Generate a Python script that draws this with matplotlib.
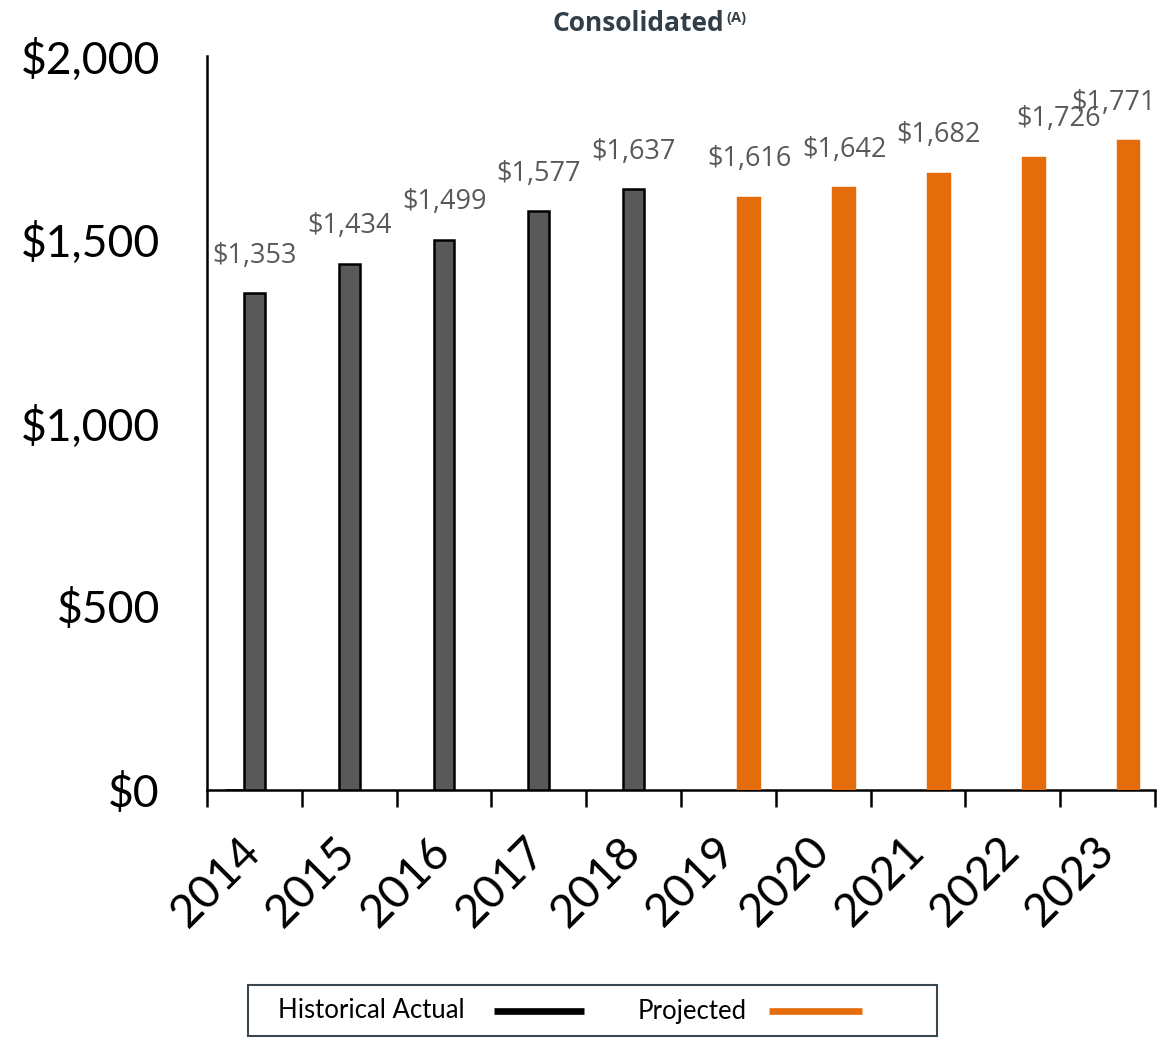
import matplotlib
matplotlib.use("Agg")
import matplotlib.pyplot as plt
from matplotlib.patches import Rectangle
from matplotlib.lines import Line2D

# ---- data -------------------------------------------------------------
years = ["2014", "2015", "2016", "2017", "2018",
         "2019", "2020", "2021", "2022", "2023"]
historical = [1353, 1434, 1499, 1577, 1637]          # 2014-2018
projected = [1616, 1642, 1682, 1726, 1771]           # 2019-2023
lead_bar = [0]                                        # empty leading bar, 2014
ytick_values = [0, 500, 1000, 1500, 2000]
ytick_labels = ["$0", "$500", "$1,000", "$1,500", "$2,000"]
legend_labels = ["Historical Actual", "Projected"]
title_text = "Consolidated"
title_note = "(A)"

# horizontal nudges (points) for value labels that would otherwise collide
label_dx = [0, 0, 0, 0, 0, 0, 0, 0, 18, -11]

# ---- style ------------------------------------------------------------
GRAY = "#595959"
ORANGE = "#E46C0A"
SLATE = "#323E48"
W, H = 1158, 1038

fig = plt.figure(figsize=(W / 100, H / 100), dpi=100)
ax = fig.add_axes([207 / W, 1 - 790 / H, (1155 - 207) / W, (790 - 56) / H])

n_hist = len(historical)
x_hist = [i + 0.5 for i in range(n_hist)]
x_proj = [n_hist + i + 0.72 for i in range(len(projected))]
x_lead = [0.29]

ax.bar(x_lead, lead_bar, width=0.2, color=GRAY, edgecolor="black",
       linewidth=1.8, zorder=3)
ax.bar(x_hist, historical, width=0.22, color=GRAY, edgecolor="black",
       linewidth=1.8, zorder=3)
ax.bar(x_proj, projected, width=0.25, color=ORANGE, edgecolor=ORANGE,
       linewidth=0.3, zorder=3)

# value labels
for x, v, dx in zip(x_hist + x_proj, historical + projected, label_dx):
    ax.annotate(f"${v:,}", (x, v), xytext=(dx, 27), textcoords="offset points",
                ha="center", va="center", fontsize=19.5, color=GRAY,
                family="Open Sans")

# axes
ax.set_xlim(0, len(years))
ax.set_ylim(0, 2000)
ax.set_xticks(range(len(years) + 1))
ax.set_xticklabels([])
ax.set_xticks([i + 0.5 for i in range(len(years))], minor=True)
ax.set_xticklabels(years, minor=True, rotation=45, ha="right", va="center",
                   rotation_mode="anchor", fontsize=33, family="Lato")
ax.tick_params(axis="x", which="major", length=12, width=1.8,
               direction="out", color="black")
ax.tick_params(axis="x", which="minor", length=0, pad=39)

ax.set_yticks(ytick_values)
ax.set_yticklabels(ytick_labels, fontsize=32, family="Lato")
ax.tick_params(axis="y", length=0, pad=34)

for side in ("top", "right"):
    ax.spines[side].set_visible(False)
for side in ("left", "bottom"):
    ax.spines[side].set_linewidth(1.8)
    ax.spines[side].set_color("black")

# title with superscript note placed right after it
title = fig.text(553 / W, 1 - 31 / H, title_text, fontsize=19,
                 fontweight="bold", color=SLATE, family="Open Sans",
                 va="baseline", ha="left")
fig.canvas.draw()
bb = title.get_window_extent(fig.canvas.get_renderer())
fig.text((bb.x1 + 2) / W, 1 - 22 / H, title_note, fontsize=10.5,
         fontweight="bold", color=SLATE, family="Open Sans",
         va="baseline", ha="left")

# legend box
fig.patches.append(Rectangle((248 / W, 1 - 1036 / H), 689 / W, 51 / H,
                             transform=fig.transFigure, fill=False,
                             edgecolor="#3A4750", linewidth=1.5))
ly = 1 - 1011 / H
fig.text(278 / W, ly, legend_labels[0], fontsize=18.5, family="Lato",
         color="black", va="center", ha="left")
fig.lines.append(Line2D([494 / W, 584 / W], [ly, ly], transform=fig.transFigure,
                        color="black", linewidth=4.8, solid_capstyle="butt"))
fig.text(638 / W, ly, legend_labels[1], fontsize=18.5, family="Lato",
         color="black", va="center", ha="left")
fig.lines.append(Line2D([769 / W, 862 / W], [ly, ly], transform=fig.transFigure,
                        color=ORANGE, linewidth=4.8, solid_capstyle="butt"))

fig.savefig("out.png", dpi=100)
